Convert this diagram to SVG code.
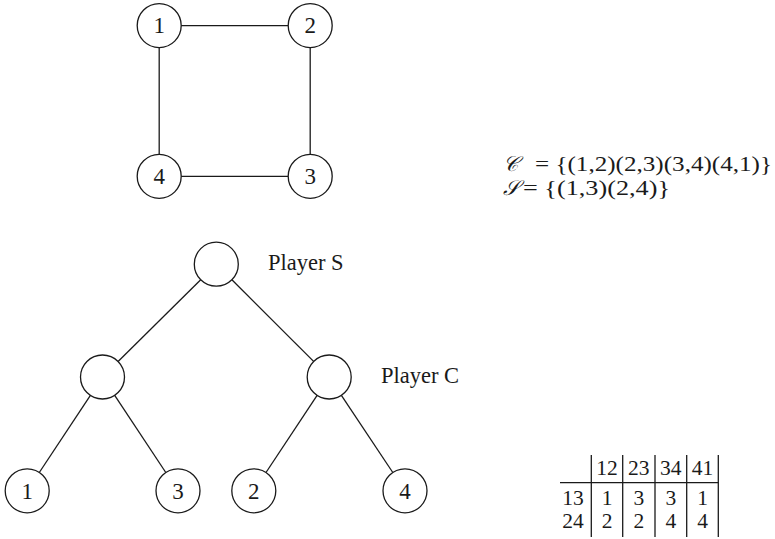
<svg xmlns="http://www.w3.org/2000/svg" width="775" height="539" viewBox="0 0 775 539">
<style>
.n{fill:#fff;stroke:#1a1a1a;stroke-width:1.3}
.e{stroke:#1a1a1a;stroke-width:1.3;fill:none}
.t{font-family:"Liberation Serif","Times New Roman",serif;font-size:23px;fill:#1a1a1a;text-anchor:middle}
.c{font-family:"Liberation Serif","Times New Roman",serif;font-size:21.5px;fill:#1a1a1a;text-anchor:middle}
.l{font-family:"Liberation Serif","Times New Roman",serif;font-size:22.5px;fill:#1a1a1a}
.f{font-family:"Liberation Serif","Times New Roman",serif;font-size:22px;fill:#1a1a1a}
.s{font-family:"DejaVu Serif","DejaVu Sans","Liberation Serif",serif;font-size:21px;fill:#1a1a1a;font-style:italic}
</style>
<rect width="775" height="539" fill="#fff"/>
<g id="connectors">
<line class="e" x1="181" y1="25.6" x2="288.3" y2="25.6"/>
<line class="e" x1="159.2" y1="47.7" x2="159.2" y2="154.2"/>
<line class="e" x1="310.2" y1="47.7" x2="310.2" y2="154.2"/>
<line class="e" x1="181" y1="176.3" x2="288.3" y2="176.3"/>
<line class="e" x1="200.7" y1="279.7" x2="118.1" y2="361.5"/>
<line class="e" x1="231.9" y1="279.7" x2="313.6" y2="361.4"/>
<line class="e" x1="90.4" y1="395.3" x2="39.3" y2="472.5"/>
<line class="e" x1="114.7" y1="395.3" x2="165.8" y2="472.5"/>
<line class="e" x1="317.1" y1="395.3" x2="266" y2="472.5"/>
<line class="e" x1="341.4" y1="395.3" x2="392.8" y2="472.5"/>
</g>
<g id="g1"><circle class="n" cx="159.2" cy="25.6" r="22"/><text class="t" x="159.2" y="33.4">1</text></g>
<g id="g2"><circle class="n" cx="310.2" cy="25.6" r="22"/><text class="t" x="310.2" y="33.4">2</text></g>
<g id="g4"><circle class="n" cx="159.2" cy="176.3" r="22"/><text class="t" x="159.2" y="184.1">4</text></g>
<g id="g3"><circle class="n" cx="310.2" cy="176.3" r="22"/><text class="t" x="310.2" y="184.1">3</text></g>
<g id="root"><circle class="n" cx="216.3" cy="264.2" r="22"/></g>
<g id="midL"><circle class="n" cx="102.5" cy="377" r="22"/></g>
<g id="midR"><circle class="n" cx="329.2" cy="377" r="22"/></g>
<g id="leaf1"><circle class="n" cx="27.2" cy="490.8" r="22"/><text class="t" x="27.2" y="498.6">1</text></g>
<g id="leaf3"><circle class="n" cx="178" cy="490.8" r="22"/><text class="t" x="178" y="498.6">3</text></g>
<g id="leaf2"><circle class="n" cx="253.8" cy="490.8" r="22"/><text class="t" x="253.8" y="498.6">2</text></g>
<g id="leaf4"><circle class="n" cx="405" cy="490.8" r="22"/><text class="t" x="405" y="498.6">4</text></g>
<text class="l" x="268" y="270">Player S</text>
<text class="l" x="381" y="383.3">Player C</text>
<g id="formulas">
<text class="s" x="503" y="171">𝒞</text>
<text class="f" x="535" y="171" textLength="237" lengthAdjust="spacingAndGlyphs">= {(1,2)(2,3)(3,4)(4,1)}</text>
<text class="s" x="503" y="195">𝒮</text>
<text class="f" x="523" y="195" textLength="147" lengthAdjust="spacingAndGlyphs">= {(1,3)(2,4)}</text>
</g>
<g id="table">
<line class="e" x1="591.3" y1="455" x2="591.3" y2="537"/>
<line class="e" x1="622.7" y1="455" x2="622.7" y2="537"/>
<line class="e" x1="655" y1="455" x2="655" y2="537"/>
<line class="e" x1="686.7" y1="455" x2="686.7" y2="537"/>
<line class="e" x1="718.3" y1="455" x2="718.3" y2="537"/>
<line class="e" x1="560" y1="482.7" x2="718.3" y2="482.7"/>
<text class="c" x="607" y="475">12</text>
<text class="c" x="638.8" y="475">23</text>
<text class="c" x="670.8" y="475">34</text>
<text class="c" x="702.5" y="475">41</text>
<text class="c" x="573" y="505">13</text>
<text class="c" x="607" y="505">1</text>
<text class="c" x="638.8" y="505">3</text>
<text class="c" x="670.8" y="505">3</text>
<text class="c" x="702.5" y="505">1</text>
<text class="c" x="573" y="528.3">24</text>
<text class="c" x="607" y="528.3">2</text>
<text class="c" x="638.8" y="528.3">2</text>
<text class="c" x="670.8" y="528.3">4</text>
<text class="c" x="702.5" y="528.3">4</text>
</g>
</svg>
